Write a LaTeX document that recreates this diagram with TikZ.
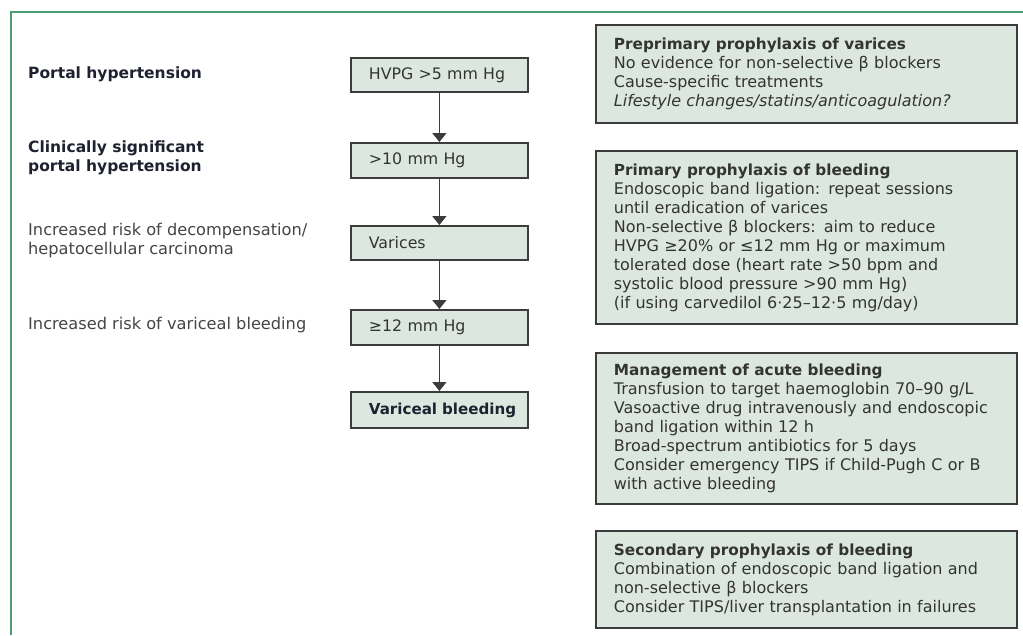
\documentclass[tikz,border=0pt]{standalone}
\usepackage{fontspec}
\setmainfont{DejaVu Sans}
\newfontfamily\symf{DejaVu Sans}
\usetikzlibrary{arrows.meta}
\definecolor{boxfill}{HTML}{DCE8DF}
\definecolor{boxdraw}{HTML}{3C3C3C}
\definecolor{framegreen}{HTML}{4E9C72}
\definecolor{labeldark}{HTML}{1E2230}
\definecolor{labelgray}{HTML}{454545}
\definecolor{bodytext}{HTML}{333333}
\newcommand{\gqs}{{\symf ≥}}
\newcommand{\lqs}{{\symf ≤}}
\newcommand{\hd}[1]{{\fontsize{15.3}{19}\selectfont\bfseries #1}}
\begin{document}
\begin{tikzpicture}[x=1pt,y=-1pt,
  stagebox/.style={draw=boxdraw, line width=1.8pt, fill=boxfill, anchor=north west,
    minimum height=35pt, inner xsep=0pt, inner ysep=0pt, text width=177pt, align=left,
    execute at begin node={\hspace*{18pt}},
    font=\fontsize{15.8}{18}\selectfont, text=bodytext},
  infobox/.style={draw=boxdraw, line width=1.8pt, fill=boxfill, anchor=north west,
    inner xsep=18pt, inner ysep=0pt, text width=385pt, align=left,
    font=\fontsize{16}{19}\selectfont, text=bodytext},
  sidelabel/.style={anchor=west, align=left, inner sep=0pt,
    font=\fontsize{16.2}{18.5}\selectfont},
  arr/.style={draw=boxdraw, line width=1.8pt, -{Triangle[width=14pt,length=9pt]}}
]
\useasboundingbox (0,0) rectangle (1023,635);
\fill[white] (0,0) rectangle (1023,635);
% frame
\draw[framegreen, line width=2.2pt] (11,635) -- (11,12) -- (1023,12);

% left labels
\node[sidelabel, text=labeldark, font=\fontsize{15.5}{18.5}\selectfont\bfseries] (l1) at (28,74) {Portal hypertension};
\node[sidelabel, text=labeldark, font=\fontsize{15.5}{18.5}\selectfont\bfseries] (l2) at (28,158) {Clinically significant\\portal hypertension};
\node[sidelabel, text=labelgray] (l3) at (28,240.5) {Increased risk of decompensation/\\hepatocellular carcinoma};
\node[sidelabel, text=labelgray] (l4) at (28,325) {Increased risk of variceal bleeding};

% stage boxes
\node[stagebox, minimum height=34pt] (b1) at (350,57) {HVPG >5 mm Hg};
\node[stagebox] (b2) at (350,142) {>10 mm Hg};
\node[stagebox, minimum height=34pt] (b3) at (350,225) {Varices};
\node[stagebox] (b4) at (350,309) {\gqs12 mm Hg};
\node[stagebox, minimum height=36pt, font=\fontsize{15.1}{18}\selectfont\bfseries, text=labeldark] (b5) at (350,391) {Variceal bleeding};

\draw[arr] (b1) -- (b2);
\draw[arr] (b2) -- (b3);
\draw[arr] (b3) -- (b4);
\draw[arr] (b4) -- (b5);

% info boxes
\node[infobox, minimum height=98pt] (i1) at (595,24) {%
  \hd{Preprimary prophylaxis of varices}\\
  No evidence for non-selective β blockers\\
  Cause-specific treatments\\
  \textit{Lifestyle changes/statins/anticoagulation?}};
\node[infobox, minimum height=173pt] (i2) at (595,150) {%
  \hd{Primary prophylaxis of bleeding}\\
  Endoscopic band ligation: repeat sessions\\
  until eradication of varices\\
  Non-selective β blockers: aim to reduce\\
  HVPG \gqs20\% or \lqs12 mm Hg or maximum\\
  tolerated dose (heart rate >50 bpm and\\
  systolic blood pressure >90 mm Hg)\\
  (if using carvedilol 6·25–12·5 mg/day)};
\node[infobox, minimum height=151pt] (i3) at (595,352) {%
  \hd{Management of acute bleeding}\\
  Transfusion to target haemoglobin 70–90 g/L\\
  Vasoactive drug intravenously and endoscopic\\
  band ligation within 12 h\\
  Broad-spectrum antibiotics for 5 days\\
  Consider emergency TIPS if Child-Pugh C or B\\
  with active bleeding};
\node[infobox, minimum height=97pt] (i4) at (595,530) {%
  \hd{Secondary prophylaxis of bleeding}\\
  Combination of endoscopic band ligation and\\
  non-selective β blockers\\
  Consider TIPS/liver transplantation in failures};
\end{tikzpicture}
\end{document}
